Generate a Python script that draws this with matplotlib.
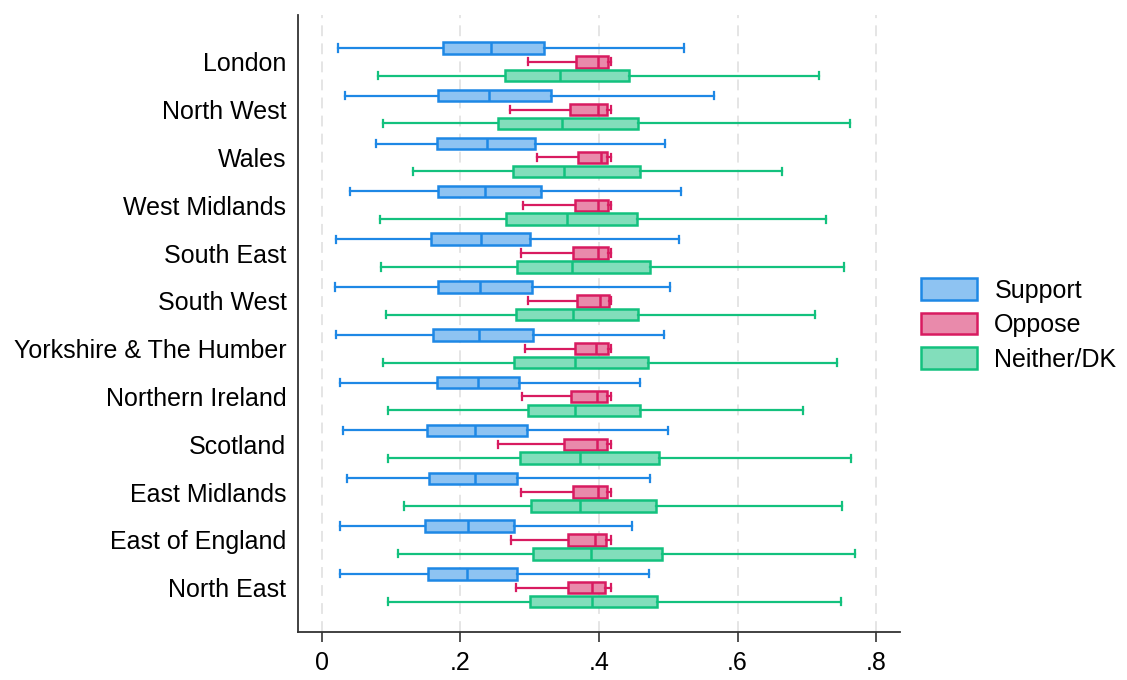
import matplotlib.pyplot as plt
import matplotlib.patches as mpatches
import numpy as np

plt.rcParams['font.family'] = ['Liberation Sans', 'DejaVu Sans']
plt.rcParams['font.size'] = 18

regions = ["London", "North West", "Wales", "West Midlands", "South East",
           "South West", "Yorkshire & The Humber", "Northern Ireland",
           "Scotland", "East Midlands", "East of England", "North East"]

# (min, q1, median, q3, max) per region
support = [
    (0.024, 0.175, 0.244, 0.320, 0.523),
    (0.034, 0.167, 0.241, 0.331, 0.566),
    (0.078, 0.166, 0.239, 0.307, 0.495),
    (0.040, 0.168, 0.235, 0.317, 0.519),
    (0.020, 0.157, 0.230, 0.300, 0.515),
    (0.019, 0.168, 0.229, 0.303, 0.502),
    (0.021, 0.160, 0.227, 0.305, 0.494),
    (0.026, 0.166, 0.226, 0.284, 0.459),
    (0.030, 0.152, 0.221, 0.296, 0.499),
    (0.036, 0.155, 0.221, 0.281, 0.474),
    (0.027, 0.149, 0.211, 0.278, 0.447),
    (0.027, 0.153, 0.209, 0.281, 0.472),
]
oppose = [
    (0.297, 0.367, 0.399, 0.413, 0.418),
    (0.271, 0.358, 0.399, 0.412, 0.418),
    (0.311, 0.370, 0.403, 0.412, 0.418),
    (0.290, 0.365, 0.398, 0.413, 0.418),
    (0.287, 0.363, 0.398, 0.413, 0.418),
    (0.298, 0.368, 0.402, 0.414, 0.418),
    (0.293, 0.366, 0.395, 0.413, 0.418),
    (0.289, 0.359, 0.397, 0.412, 0.418),
    (0.254, 0.350, 0.397, 0.411, 0.418),
    (0.287, 0.363, 0.399, 0.411, 0.418),
    (0.273, 0.355, 0.394, 0.410, 0.418),
    (0.280, 0.355, 0.390, 0.408, 0.418),
]
neither = [
    (0.081, 0.264, 0.344, 0.443, 0.717),
    (0.089, 0.254, 0.346, 0.456, 0.762),
    (0.132, 0.276, 0.349, 0.459, 0.664),
    (0.084, 0.266, 0.354, 0.455, 0.728),
    (0.086, 0.282, 0.361, 0.474, 0.753),
    (0.093, 0.280, 0.362, 0.456, 0.712),
    (0.088, 0.278, 0.365, 0.470, 0.744),
    (0.095, 0.298, 0.366, 0.459, 0.694),
    (0.095, 0.286, 0.373, 0.486, 0.763),
    (0.119, 0.302, 0.373, 0.482, 0.750),
    (0.110, 0.305, 0.388, 0.491, 0.770),
    (0.095, 0.301, 0.390, 0.484, 0.749),
]

series = [("Support", support, "#1E88E5", "#8EC3F2"),
          ("Oppose", oppose, "#D81B60", "#E98AAB"),
          ("Neither/DK", neither, "#13C17E", "#82DEBB")]
offsets = [-0.29, 0.0, 0.29]

fig = plt.figure(figsize=(11.27, 6.8), dpi=100)
ax = fig.add_axes([0.264, 0.071, 0.535, 0.907])

ypos = np.arange(len(regions))
handles = []
for (name, data, edge, fill), off in zip(series, offsets):
    stats = [dict(whislo=lo, q1=q1, med=med, q3=q3, whishi=hi, fliers=[])
             for lo, q1, med, q3, hi in data]
    ax.bxp(stats, positions=ypos + off, widths=0.24, capwidths=0.15,
           orientation='horizontal', patch_artist=True, showfliers=False,
           manage_ticks=False,
           boxprops=dict(facecolor=fill, edgecolor=edge, linewidth=1.8),
           medianprops=dict(color=edge, linewidth=1.8),
           whiskerprops=dict(color=edge, linewidth=1.6),
           capprops=dict(color=edge, linewidth=1.6))
    handles.append(mpatches.Patch(facecolor=fill, edgecolor=edge,
                                  linewidth=1.8, label=name))

ax.set_xlim(-0.035, 0.835)
ax.set_ylim(11.92, -0.98)
ax.set_yticks(ypos)
ax.set_yticklabels(regions)
ax.tick_params(axis='y', length=0, pad=8)
ax.set_xticks([0, 0.2, 0.4, 0.6, 0.8])
ax.set_xticklabels(["0", ".2", ".4", ".6", ".8"])
ax.tick_params(axis='x', length=7, width=1.2, pad=7, color='#333333')

ax.grid(axis='x', color='#e3e3e3', linestyle=(0, (6, 4)), linewidth=1.3, zorder=0)
ax.set_axisbelow(True)
for s in ['top', 'right']:
    ax.spines[s].set_visible(False)
for s in ['left', 'bottom']:
    ax.spines[s].set_color('#333333')
    ax.spines[s].set_linewidth(1.3)

fig.legend(handles=handles, loc='center left', bbox_to_anchor=(0.808, 0.522),
           frameon=False, handlelength=2.25, handleheight=0.95,
           labelspacing=0.4, handletextpad=0.7, borderaxespad=0)

fig.savefig('out.png', dpi=100, facecolor='white')
